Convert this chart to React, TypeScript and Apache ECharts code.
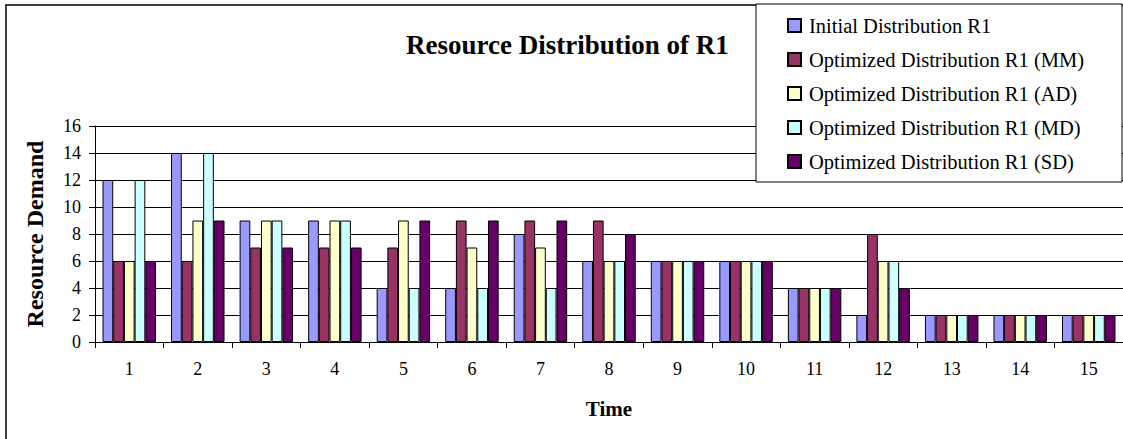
import React, { useEffect, useRef } from "react";
import * as echarts from "echarts";

const categories = ["1", "2", "3", "4", "5", "6", "7", "8", "9", "10", "11", "12", "13", "14", "15"];
const initialR1 = [12, 14, 9, 9, 4, 4, 8, 6, 6, 6, 4, 2, 2, 2, 2];
const optMM = [6, 6, 7, 7, 7, 9, 9, 9, 6, 6, 4, 8, 2, 2, 2];
const optAD = [6, 9, 9, 9, 9, 7, 7, 6, 6, 6, 4, 6, 2, 2, 2];
const optMD = [12, 14, 9, 9, 4, 4, 4, 6, 6, 6, 4, 6, 2, 2, 2];
const optSD = [6, 9, 7, 7, 9, 9, 9, 8, 6, 6, 4, 4, 2, 2, 2];
const seriesNames = [
  "Initial Distribution R1",
  "Optimized Distribution R1 (MM)",
  "Optimized Distribution R1 (AD)",
  "Optimized Distribution R1 (MD)",
  "Optimized Distribution R1 (SD)",
];
const seriesColors = ["#9999FF", "#993366", "#FFFFCC", "#CCFFFF", "#660066"];
const yTicks = { min: 0, max: 16, interval: 2 };

const FONT = "'Liberation Serif', 'Times New Roman', serif";

export default function App() {
  const ref = useRef<HTMLDivElement>(null);
  useEffect(() => {
    if (!ref.current) return;
    const chart = echarts.init(ref.current, null, { renderer: "svg" });
    const data = [initialR1, optMM, optAD, optMD, optSD];
    chart.setOption({
      animation: false,
      backgroundColor: "#ffffff",
      textStyle: { fontFamily: FONT, color: "#000" },
      title: {
        text: "Resource Distribution of R1",
        left: 401,
        top: 26,
        textStyle: { fontFamily: FONT, fontSize: 27, fontWeight: "bold", color: "#000" },
      },
      graphic: {
        elements: [
          {
            type: "rect",
            z: 1,
            shape: { x: 6, y: 5, width: 1200, height: 500 },
            style: { fill: "none", stroke: "#000", lineWidth: 1.5 },
          },
          {
            type: "rect",
            z: 3,
            shape: { x: 756, y: 4, width: 366, height: 178 },
            style: { fill: "#fff", stroke: "#000", lineWidth: 1 },
          },
        ],
      },
      legend: {
        orient: "vertical",
        left: 787,
        top: 15,
        padding: 0,
        itemGap: 13,
        itemWidth: 13,
        itemHeight: 13,
        z: 10,
        icon: "rect",
        selectedMode: false,
        textStyle: { fontFamily: FONT, fontSize: 20.5, color: "#000", padding: [0, 0, 0, 3] },
        data: seriesNames,
      },
      grid: { left: 95, top: 126, width: 1031, height: 216, containLabel: false },
      xAxis: {
        type: "category",
        data: categories,
        name: "Time",
        nameLocation: "middle",
        nameGap: 56,
        nameTextStyle: { fontFamily: FONT, fontSize: 21, fontWeight: "bold", color: "#000" },
        axisLine: { lineStyle: { color: "#000", width: 1 } },
        axisTick: { show: true, length: 6, interval: 0, lineStyle: { color: "#000" } },
        axisLabel: { fontFamily: FONT, fontSize: 18, color: "#000", margin: 18, interval: 0 },
        splitLine: { show: false },
      },
      yAxis: {
        type: "value",
        min: yTicks.min,
        max: yTicks.max,
        interval: yTicks.interval,
        name: "Resource Demand",
        nameLocation: "middle",
        nameGap: 48,
        nameRotate: 90,
        nameTextStyle: { fontFamily: FONT, fontSize: 24, fontWeight: "bold", color: "#000" },
        axisLine: { show: true, lineStyle: { color: "#000", width: 1 } },
        axisTick: { show: true, length: 6, lineStyle: { color: "#000" } },
        axisLabel: { fontFamily: FONT, fontSize: 18, color: "#000", margin: 14 },
        splitLine: { show: true, lineStyle: { color: "#000", width: 1 } },
      },
      series: data.map((d, i) => ({
        name: seriesNames[i],
        type: "bar",
        data: d,
        barGap: "0%",
        barCategoryGap: "22%",
        z: 2,
        itemStyle: { color: seriesColors[i], borderColor: "#000", borderWidth: 1 },
      })),
    });
    return () => chart.dispose();
  }, []);
  return (
    <div
      ref={ref}
      style={{ position: "fixed", left: 0, top: 0, width: 1123, height: 439 }}
    />
  );
}
